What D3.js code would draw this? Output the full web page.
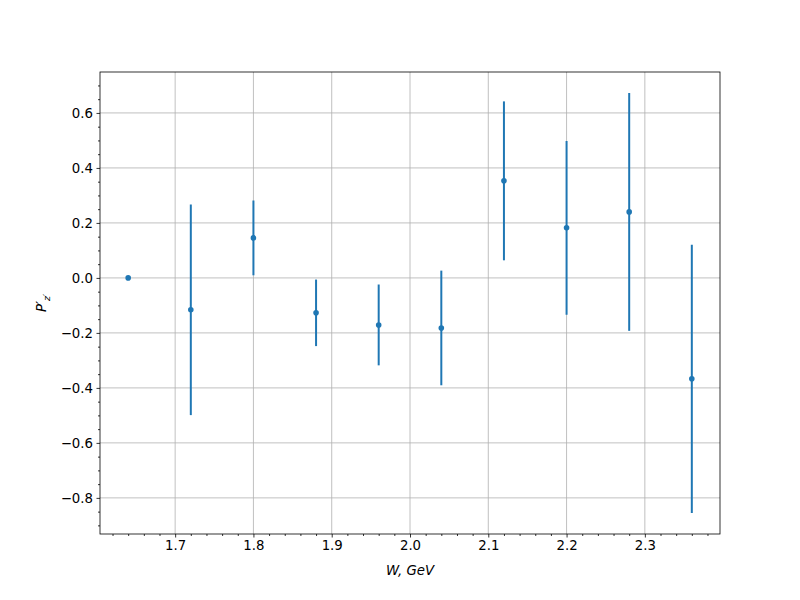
<!DOCTYPE html>
<html><head><meta charset="utf-8">
<script src="https://cdn.jsdelivr.net/npm/d3@7"></script>
<style>body{margin:0;background:#fff}text{font-family:"DejaVu Sans",sans-serif}</style>
</head><body><svg id="c" width="800" height="600"></svg>
<script>
const wValues = [1.64, 1.72, 1.80, 1.88, 1.96, 2.04, 2.12, 2.20, 2.28, 2.36];
const pValues = [0.0, -0.116, 0.1455, -0.127, -0.171, -0.182, 0.353, 0.182, 0.240, -0.367];
const pErrors = [0.0, 0.383, 0.136, 0.121, 0.147, 0.2085, 0.289, 0.316, 0.4325, 0.488];
const xTicks = [1.7, 1.8, 1.9, 2.0, 2.1, 2.2, 2.3];
const yTicks = [-0.8, -0.6, -0.4, -0.2, 0.0, 0.2, 0.4, 0.6];

const svg = d3.select("#c");
const L = 100, R = 720, T = 72, B = 534;
const x = d3.scaleLinear().domain([1.604, 2.396]).range([L, R]);
const lo = d3.min(pValues.map((v, i) => v - pErrors[i]));
const hi = d3.max(pValues.map((v, i) => v + pErrors[i]));
const pad = (hi - lo) * 0.05;
const y = d3.scaleLinear().domain([lo - pad, hi + pad]).range([B, T]);

svg.append("rect").attr("width", 800).attr("height", 600).attr("fill", "#fff");

// grid
const g = svg.append("g");
xTicks.forEach(t => g.append("line").attr("x1", x(t)).attr("x2", x(t)).attr("y1", T).attr("y2", B)
  .attr("stroke", "#b0b0b0").attr("stroke-width", 0.8));
yTicks.forEach(t => g.append("line").attr("x1", L).attr("x2", R).attr("y1", y(t)).attr("y2", y(t))
  .attr("stroke", "#b0b0b0").attr("stroke-width", 0.8));

// axes
const fmt = d3.format(".1f");
const minorX = d3.range(1.62, 2.40, 0.02).filter(v => xTicks.every(t => Math.abs(t - v) > 1e-6));
const minorY = d3.range(-0.90, 0.76, 0.05).filter(v => yTicks.every(t => Math.abs(t - v) > 1e-6) && v >= y.domain()[0] && v <= y.domain()[1]);

const xAxis = svg.append("g").attr("transform", `translate(0,${B})`)
  .call(d3.axisBottom(x).tickValues(xTicks).tickFormat(fmt).tickSize(3.5).tickPadding(3.5));
svg.append("g").attr("transform", `translate(0,${B})`)
  .call(d3.axisBottom(x).tickValues(minorX).tickFormat("").tickSize(2)).select(".domain").remove();
const yAxis = svg.append("g").attr("transform", `translate(${L},0)`)
  .call(d3.axisLeft(y).tickValues(yTicks).tickFormat(v => fmt(v).replace("-", "\u2212")).tickSize(3.5).tickPadding(3.5));
svg.append("g").attr("transform", `translate(${L},0)`)
  .call(d3.axisLeft(y).tickValues(minorY).tickFormat("").tickSize(2)).select(".domain").remove();
svg.selectAll(".domain").remove();
svg.selectAll(".tick line").attr("stroke", "#000").attr("stroke-width", 0.8);
svg.selectAll(".tick text").attr("font-size", "13.3px").attr("fill", "#000").attr("font-family", "DejaVu Sans");

// error bars
const eb = svg.append("g");
wValues.forEach((w, i) => {
  if (pErrors[i] > 0) {
    eb.append("line").attr("x1", x(w)).attr("x2", x(w))
      .attr("y1", y(pValues[i] - pErrors[i])).attr("y2", y(pValues[i] + pErrors[i]))
      .attr("stroke", "#1f77b4").attr("stroke-width", 2);
  }
});
eb.selectAll("circle").data(wValues).join("circle")
  .attr("cx", d => x(d)).attr("cy", (d, i) => y(pValues[i])).attr("r", 2.8).attr("fill", "#1f77b4");

// frame
svg.append("rect").attr("x", L).attr("y", T).attr("width", R - L).attr("height", B - T)
  .attr("fill", "none").attr("stroke", "#000").attr("stroke-width", 0.8);

// labels
svg.append("text").attr("x", 410).attr("y", 575).attr("text-anchor", "middle")
  .attr("font-size", "13.3px").attr("font-style", "italic").text("W, GeV");
const yl = svg.append("text").attr("transform", "translate(46,303) rotate(-90)")
  .attr("text-anchor", "middle").attr("font-size", "13.3px").attr("font-style", "italic");
yl.append("tspan").text("P\u2032");
yl.append("tspan").attr("font-size", "9.5px").attr("dy", 4).text("z\u2032");
</script></body></html>
